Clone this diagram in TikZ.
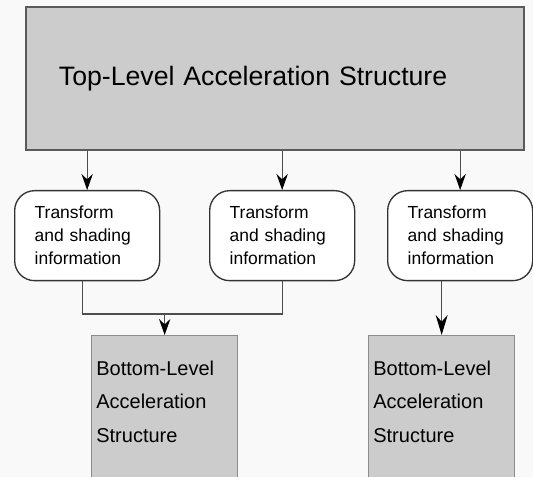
\documentclass[tikz,border=0pt]{standalone}
\usepackage{fontspec}
\setmainfont{Liberation Sans}
\usepackage{xcolor}
\usetikzlibrary{arrows.meta}
\definecolor{bggray}{HTML}{F9F9F9}
\definecolor{boxgray}{HTML}{CCCCCC}
\definecolor{edgegray}{HTML}{5A5A5A}
\definecolor{linegray}{HTML}{4D4D4D}

\begin{document}
\begin{tikzpicture}[x=0.75pt, y=-0.75pt,
  tlas/.style={draw=edgegray, line width=1.4pt, fill=boxgray, anchor=north west, minimum width=373.5pt, minimum height=107.25pt, text width=324pt, inner xsep=24.75pt, align=left, font=\fontsize{20}{24}\selectfont},
  info/.style={draw=black!80, line width=1pt, fill=white, rounded corners=15pt, anchor=north west, minimum width=108.75pt, minimum height=67.5pt, text width=78.75pt, inner xsep=15pt, align=left, font=\fontsize{13.1}{17.2}\selectfont},
  blas/.style={draw=black!45, line width=1pt, fill=boxgray, anchor=north west, minimum width=109.5pt, text width=102.5pt, inner xsep=3.5pt, inner ysep=19pt, text depth=85pt, align=left, font=\fontsize{15}{25}\selectfont},
  link/.style={draw=linegray, line width=0.9pt},
  >={Stealth[length=12pt,width=8.5pt,inset=4pt,color=black]}]
\clip (0,0) rectangle (533,477);
\fill[bggray] (0,0) rectangle (533,477);

\node[tlas] (top) at (25,6) {Top-Level Acceleration Structure};
\node[info] (tsi1) at (14,190) {Transform\\and shading\\information};
\node[info] (tsi2) at (209,190) {Transform\\and shading\\information};
\node[info] (tsi3) at (387,190) {Transform\\and shading\\information};
\node[blas] (blas1) at (91,335) {Bottom-Level\\Acceleration\\Structure};
\node[blas] (blas2) at (368,335) {Bottom-Level\\Acceleration\\Structure};
\coordinate (merge) at (blas1.north |- 0,314);

% top level to instances
\draw[link,->] (top.south -| tsi1.north) -- (tsi1.north);
\draw[link,->] (top.south -| tsi2.north) -- (tsi2.north);
\draw[link,->] (top.south -| tsi3.north) -- (tsi3.north);
% instances to bottom level
\draw[link] ([xshift=-3.5pt]tsi1.south) |- (merge) -| (tsi2.south);
\draw[link,->] (merge) -- (blas1.north);
\draw[link,-{Stealth[length=15pt,width=9pt,inset=5pt,color=black]}] (tsi3.south -| blas2.north) -- (blas2.north);
\end{tikzpicture}
\end{document}
